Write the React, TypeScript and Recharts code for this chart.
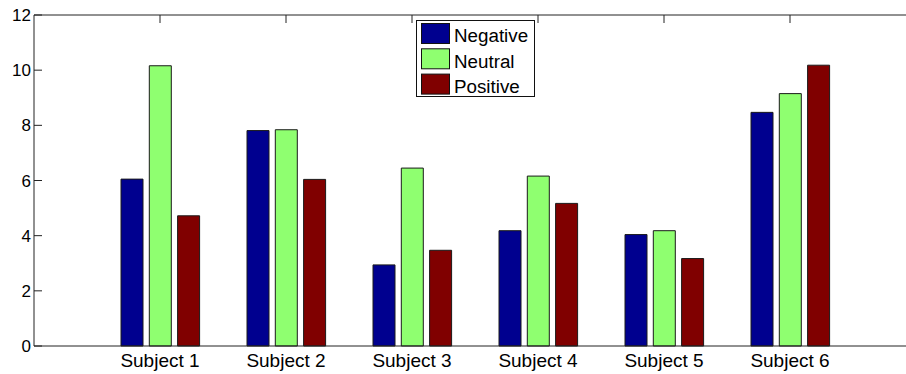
import React from "react";
import { BarChart, Bar, XAxis, YAxis } from "recharts";

const subjects = ["Subject 1", "Subject 2", "Subject 3", "Subject 4", "Subject 5", "Subject 6"];
const negative = [6.05, 7.81, 2.94, 4.18, 4.04, 8.47];
const neutral = [10.16, 7.84, 6.45, 6.16, 4.18, 9.15];
const positive = [4.72, 6.04, 3.47, 5.17, 3.17, 10.18];
const yTicks = [0, 2, 4, 6, 8, 10, 12];

const series = [
  { key: "negative", name: "Negative", color: "#00008f" },
  { key: "neutral", name: "Neutral", color: "#8fff70" },
  { key: "positive", name: "Positive", color: "#800000" },
];

const data = subjects.map((s, i) => ({
  subject: s,
  negative: negative[i],
  neutral: neutral[i],
  positive: positive[i],
}));

const FONT = "'Liberation Sans', Arial, Helvetica, sans-serif";
const AXIS = "#222";
const TICK_LEN = 8;
const Y_LABEL_GAP = 3;

// Y tick: label to the left of the axis, tick mark pointing into the plot
function YTick(props: any) {
  const { x, y, payload } = props;
  const axisX = x + Y_LABEL_GAP;
  return (
    <g>
      <line x1={axisX} x2={axisX + TICK_LEN} y1={y} y2={y} stroke={AXIS} strokeWidth={1} />
      <text x={x} y={y} dy="0.36em" textAnchor="end" fontFamily={FONT} fontSize={17} fill="#000">
        {payload.value}
      </text>
    </g>
  );
}

// Top frame tick: short mark hanging down from the top edge
function TopTick(props: any) {
  const { x, y } = props;
  return <line x1={x} x2={x} y1={y} y2={y + TICK_LEN} stroke={AXIS} strokeWidth={1} />;
}

function LegendBox() {
  const w = 119;
  const h = 77;
  return (
    <svg width={w} height={h} style={{ position: "absolute", left: 416, top: 20 }}>
      <rect x={0.5} y={0.5} width={w - 1} height={h - 1} fill="#fff" stroke="#111" strokeWidth={1} />
      {series.map((s, i) => (
        <g key={s.key}>
          <rect x={5.5} y={3.5 + i * 25.3} width={28} height={20} fill={s.color} stroke="#111" strokeWidth={1} />
          <text x={38} y={22.3 + i * 25.3} fontFamily={FONT} fontSize={18.8} fill="#000">
            {s.name}
          </text>
        </g>
      ))}
    </svg>
  );
}

export default function App() {
  return (
    <div style={{ position: "absolute", left: 0, top: 0, width: 906, height: 374, background: "#fff" }}>
      <BarChart
        width={906}
        height={374}
        data={data}
        margin={{ top: 14, right: 0, left: 0, bottom: 0 }}
        barSize={22}
        barGap={6.3}
      >
        <XAxis
          dataKey="subject"
          xAxisId="bottom"
          height={28}
          padding={{ left: 63, right: 53 }}
          axisLine={{ stroke: AXIS, strokeWidth: 1 }}
          tickLine={false}
          tickSize={0}
          tickMargin={7.5}
          tick={{ fill: "#000", fontSize: 19, fontFamily: FONT }}
          interval={0}
        />
        <XAxis
          dataKey="subject"
          xAxisId="top"
          orientation="top"
          height={1}
          padding={{ left: 63, right: 53 }}
          axisLine={{ stroke: AXIS, strokeWidth: 1 }}
          tickLine={false}
          tickSize={0}
          tickMargin={0}
          tick={<TopTick />}
          interval={0}
        />
        <YAxis
          width={34}
          domain={[0, 12]}
          ticks={yTicks}
          interval={0}
          axisLine={{ stroke: AXIS, strokeWidth: 1 }}
          tickLine={false}
          tickSize={0}
          tickMargin={Y_LABEL_GAP}
          tick={<YTick />}
        />
        {series.map((s) => (
          <Bar
            key={s.key}
            dataKey={s.key}
            name={s.name}
            xAxisId="bottom"
            fill={s.color}
            stroke="#1a1a1a"
            strokeWidth={1}
            isAnimationActive={false}
          />
        ))}
      </BarChart>
      <LegendBox />
    </div>
  );
}
